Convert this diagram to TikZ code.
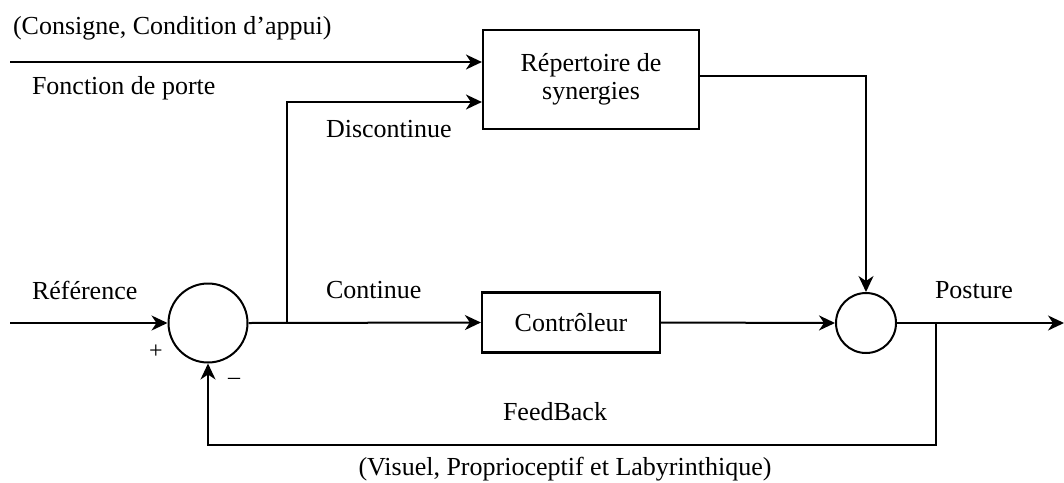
\documentclass[tikz,border=0pt]{standalone}
\usepackage{fontspec}
\setmainfont{Liberation Serif}
\usetikzlibrary{arrows.meta,calc}
\begin{document}
\begin{tikzpicture}[x=1pt,y=-1pt,
  line width=2pt,
  arr/.style={-{Stealth[length=16pt,width=15pt,inset=5pt]}},
  blk/.style={draw,rectangle,line width=2.2pt,inner sep=0pt,align=center,font=\fontsize{26}{28}\selectfont},
  sumc/.style={draw,circle,inner sep=0pt},
  lbl/.style={inner sep=0pt,font=\fontsize{26}{28}\selectfont},
  sgn/.style={inner sep=0pt,font=\fontsize{24}{26}\selectfont}]
\useasboundingbox (0,0) rectangle (1064,482);
% blocks
\node[blk,minimum width=216pt,minimum height=99pt] (rep) at (591,79.5) {Répertoire de\\synergies};
\node[blk,minimum width=178pt,minimum height=60pt] (ctrl) at (571,322.5) {Contrôleur};
\node[sumc,minimum size=79pt] (c1) at (208,323) {};
\node[sumc,minimum size=60pt] (c2) at (866,323) {};
% coordinates
\coordinate (in1) at (10,62);
\coordinate (top2) at (287,102);
\coordinate (split) at (287,323);
\coordinate (refin) at (10,323);
\coordinate (r1) at (866,76);
\coordinate (out) at (1064,323);
\coordinate (fb) at (936,323);
\coordinate (fbb) at (936,445);
% connectors
\draw[arr] (in1) -- (in1 -| rep.west);
\draw[arr] (split) -- (top2) -- (top2 -| rep.west);
\draw[arr] (refin) -- (c1.west);
\draw[arr] (c1.east) -- (ctrl.west);
\draw[arr] (ctrl.east) -- (c2.west);
\draw[arr] (r1 -| rep.east) -- (r1) -- (c2.north);
\draw[arr] (c2.east) -- (out);
\draw[arr] (fb) -- (fbb) -| (c1.south);
% labels
\node[lbl,anchor=west] (l1) at (12,28) {(Consigne, Condition d’appui)};
\node[lbl,anchor=west] (l2) at (31,88) {Fonction de porte};
\node[lbl,anchor=west] (l3) at (325,129) {Discontinue};
\node[lbl,anchor=west] (l4) at (31,290) {Référence};
\node[lbl,anchor=west] (l5) at (325,290) {Continue};
\node[lbl,anchor=west] (l6) at (934,290) {Posture};
\node[lbl] (l7) at (555,412) {FeedBack};
\node[lbl] (l8) at (565,469) {(Visuel, Proprioceptif et Labyrinthique)};
\node[sgn] (plus) at (156,352) {+};
\node[sgn] (minus) at (234,381) {\char"2013};
\end{tikzpicture}
\end{document}
